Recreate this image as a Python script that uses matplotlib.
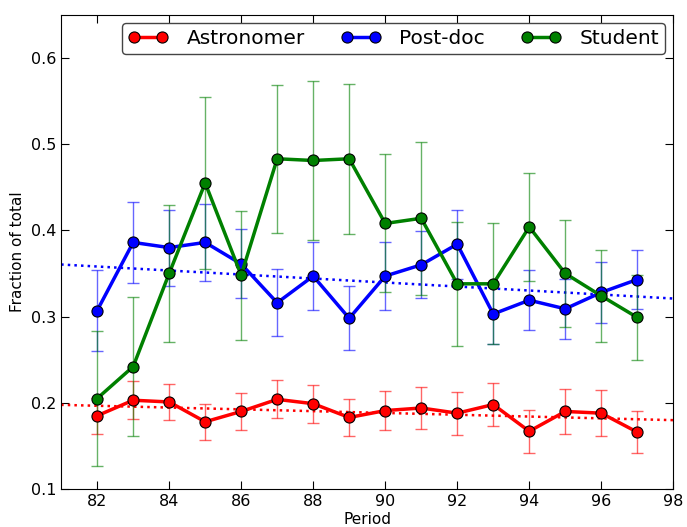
import numpy as np
import matplotlib.pyplot as plt

period = np.arange(82, 98)

astro = [0.185, 0.203, 0.201, 0.178, 0.190, 0.204, 0.199, 0.183,
         0.191, 0.194, 0.188, 0.198, 0.167, 0.190, 0.188, 0.166]
astro_err = [0.021, 0.022, 0.021, 0.021, 0.021, 0.022, 0.022, 0.022,
             0.023, 0.024, 0.025, 0.025, 0.025, 0.026, 0.027, 0.024]

postdoc = [0.307, 0.386, 0.380, 0.386, 0.361, 0.316, 0.347, 0.298,
           0.347, 0.360, 0.384, 0.303, 0.319, 0.309, 0.328, 0.343]
postdoc_err = [0.047, 0.047, 0.044, 0.045, 0.040, 0.039, 0.039, 0.037,
               0.039, 0.039, 0.040, 0.035, 0.035, 0.035, 0.035, 0.034]

student = [0.205, 0.242, 0.350, 0.455, 0.348, 0.483, 0.481, 0.483,
           0.408, 0.414, 0.338, 0.338, 0.404, 0.350, 0.324, 0.299]
student_err = [0.078, 0.081, 0.079, 0.100, 0.075, 0.086, 0.092, 0.087,
               0.080, 0.089, 0.072, 0.070, 0.063, 0.062, 0.053, 0.049]

fig, ax = plt.subplots(figsize=(6.87, 5.27), dpi=100)
fig.subplots_adjust(left=0.089, right=0.980, top=0.972, bottom=0.072)

series = [(astro, astro_err, 'red', 'Astronomer'),
          (postdoc, postdoc_err, 'blue', 'Post-doc'),
          (student, student_err, 'green', 'Student')]

xfit = np.array([81, 98])
for vals, errs, col, name in series:
    ax.errorbar(period, vals, yerr=errs, fmt='none', ecolor=col, elinewidth=1,
                capsize=4, capthick=1, alpha=0.6)
    ax.plot(period, vals, '-o', color=col, lw=2.5, ms=8, mec='black', mew=0.8,
            label=name, zorder=3)
    if name != 'Student':
        p = np.polyfit(period, vals, 1, w=1.0 / np.array(errs))
        ax.plot(xfit, np.polyval(p, xfit), ':', color=col, lw=1.8)

ax.set_xlim(81, 98)
ax.set_ylim(0.1, 0.65)
ax.set_xticks(range(82, 99, 2))
ax.set_yticks([0.1, 0.2, 0.3, 0.4, 0.5, 0.6])
ax.tick_params(direction='in', top=True, right=True, length=6, labelsize=11.5)
ax.set_xlabel('Period', fontsize=11, labelpad=2)
ax.set_ylabel('Fraction of total', fontsize=11)
leg = ax.legend(loc='upper right', ncol=3, fontsize=14.5, numpoints=2,
                handlelength=2.0, borderaxespad=0.4, columnspacing=1.8,
                handletextpad=0.9, borderpad=0.3, framealpha=1,
                edgecolor='#444444')
leg.get_frame().set_linewidth(1.0)

plt.savefig('out.png')
